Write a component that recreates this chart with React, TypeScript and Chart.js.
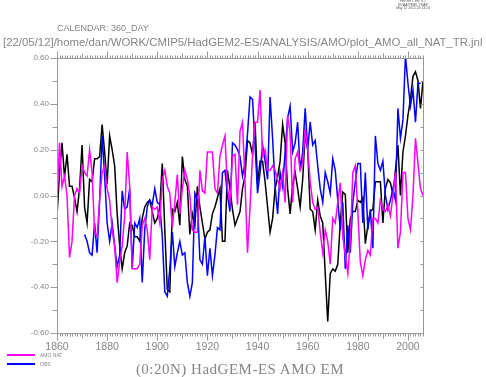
import React, { useEffect, useRef } from "react";
import { Chart, registerables } from "chart.js";

Chart.register(...registerables);

const START_YEAR = 1860;
const X_MIN = 1860;
const X_MAX = 2006;
const X_TICKS = [1860, 1880, 1900, 1920, 1940, 1960, 1980, 2000];
const Y_TICKS = [-0.6, -0.4, -0.2, 0, 0.2, 0.4, 0.6];

// AMO NAT (magenta), 1860..2006
const AMO_NAT: (number | null)[] = [
  -0.03, 0.23, 0.04, 0.085, 0.0, -0.27, -0.2, 0.0, 0.03, 0.01,
  0.13, 0.1, 0.085, 0.2, 0.1, -0.16, -0.18, -0.02, 0.1, 0.13,
  0.03, -0.02, -0.15, -0.22, -0.38, -0.29, -0.22, -0.09, 0.19, 0.04,
  -0.32, -0.32, -0.32, -0.3, -0.13, -0.1, -0.15, -0.28, -0.05, -0.06,
  -0.05, -0.12, 0.07, 0.11, 0.04, 0.01, -0.14, -0.03, 0.09, -0.08,
  0.03, 0.11, 0.07, 0.0, -0.15, -0.16, -0.16, 0.11, 0.02, 0.01,
  0.19, 0.19, 0.19, 0.03, 0.01, 0.17, 0.22, 0.26, 0.03, -0.03,
  0.17, 0.18, -0.04, 0.28, 0.32, 0.06, -0.25, -0.05, 0.17, 0.32,
  0.32, 0.46, 0.17, 0.2, 0.11, 0.11, 0.13, 0.11, 0.07, 0.03,
  0.1, -0.03, 0.35, 0.27, -0.03, 0.16, 0.19, 0.11, 0.14, 0.29,
  0.2, 0.06, -0.03, -0.06, -0.05, -0.16, -0.25, -0.15, -0.2, -0.3,
  -0.1, -0.12, -0.03, 0.055, -0.18, -0.26, -0.34, -0.2, 0.1, 0.13,
  -0.07, -0.29, -0.35, -0.28, -0.24, -0.26, -0.1, -0.1, -0.12, -0.02,
  -0.06, -0.07, -0.04, -0.09, 0.0, 0.1, -0.23, -0.16, 0.1, 0.1,
  -0.1, -0.15, 0.0, 0.25, 0.14, 0.03, 0.0,
];

// OBS (blue), 1860..2006
const OBS: (number | null)[] = [
  null, null, null, null, null, null, null, null, null, null,
  null, -0.17, -0.2, -0.25, -0.26, -0.12, -0.25, -0.02, 0.26, 0.085,
  -0.12, -0.2, -0.12, -0.22, -0.31, -0.26, 0.02, -0.06, -0.05, 0.03,
  -0.32, -0.12, -0.14, -0.1, -0.38, -0.15, -0.05, -0.02, -0.04, 0.03,
  -0.03, -0.04, -0.18, -0.42, -0.44, -0.32, -0.16, -0.31, -0.25, -0.2,
  -0.26, -0.25, -0.38, -0.44, -0.38, 0.01, -0.02, -0.28, -0.3, -0.18,
  -0.35, -0.23, -0.35, -0.26, -0.14, -0.15, 0.1, 0.11, 0.0, -0.07,
  0.23, 0.22, 0.2, 0.17, 0.085, 0.14, 0.27, 0.43, 0.42, 0.22,
  0.01, 0.1, 0.22, 0.15, 0.07, 0.43, 0.25, 0.04, -0.08, 0.1,
  0.04, 0.19, 0.34, 0.39, 0.19, 0.23, 0.32, 0.11, 0.19, 0.38,
  0.2, 0.32, 0.22, 0.24, 0.13, 0.03, -0.03, 0.1, 0.06, 0.01,
  0.16, 0.11, -0.02, -0.15, -0.03, -0.32, -0.13, -0.25, -0.03, 0.06,
  0.14, 0.14, -0.12, 0.1, -0.15, -0.06, -0.23, 0.26, 0.14, 0.11,
  0.15, 0.0, -0.06, -0.02, 0.03, -0.02, 0.38, 0.25, 0.33, 0.61,
  0.49, 0.39, 0.46, 0.32, 0.49, 0.49, null,
];

// Ensemble mean (black), 1860..2006
const EM: (number | null)[] = [
  -0.09, 0.1, 0.23, 0.08, 0.18, 0.04, 0.04, -0.01, -0.07, 0.03,
  0.22, -0.05, -0.12, 0.07, 0.06, 0.16, 0.16, 0.17, 0.31, 0.19,
  0.05, 0.26, 0.2, 0.13, -0.08, -0.22, -0.32, -0.25, -0.22, -0.12,
  -0.13, -0.18, -0.18, -0.2, -0.1, -0.05, -0.03, -0.02, -0.07, -0.12,
  -0.1, -0.05, 0.14, -0.15, -0.41, -0.42, -0.06, -0.07, -0.03, -0.13,
  0.17, 0.07, 0.04, -0.17, -0.08, -0.13, 0.04, -0.05, -0.12, -0.19,
  -0.16, -0.15, -0.08, -0.05, -0.01, 0.03, -0.2, -0.2, 0.11, 0.03,
  -0.06, -0.13, -0.1, -0.07, 0.03, 0.085, 0.24, 0.23, 0.18, 0.32,
  0.05, 0.15, 0.15, 0.06, -0.05, -0.16, -0.1, 0.03, 0.08, 0.15,
  0.31, 0.23, 0.03, -0.08, 0.05, 0.1, 0.03, -0.05, 0.07, 0.27,
  0.2, -0.06, -0.07, -0.15, -0.02, -0.09, -0.12, -0.34, -0.55, -0.34,
  -0.32, -0.33, -0.3, -0.12, 0.015, 0.005, -0.25, -0.1, -0.07, -0.07,
  -0.02, -0.03, -0.01, -0.21, -0.13, -0.07, -0.06, 0.06, 0.06, 0.06,
  -0.12, 0.03, 0.07, 0.055, 0.005, 0.11, 0.22, 0.0, 0.19, 0.26,
  0.35, 0.42, 0.52, 0.54, 0.5, 0.38, 0.5,
];

const TEXT_COLOR = "#858585";
const AXIS_COLOR = "#999999";
const SANS = "'Liberation Sans', Arial, sans-serif";
const SERIF = "'Liberation Serif', 'Times New Roman', serif";

function toPoints(vals: (number | null)[]) {
  const pts: { x: number; y: number }[] = [];
  vals.forEach((v, i) => {
    if (v !== null) pts.push({ x: START_YEAR + i, y: v });
  });
  return pts;
}

const ferretAxes = {
  id: "ferretAxes",
  afterDraw(chart: any) {
    const { ctx, chartArea: a, scales } = chart;
    const xs = scales.x;
    const ys = scales.y;
    const L = Math.round(a.left) + 0.5;
    const R = Math.round(a.right) + 0.5;
    const T = Math.round(a.top) + 0.5;
    const B = Math.round(a.bottom) + 0.5;
    ctx.save();
    ctx.strokeStyle = AXIS_COLOR;
    ctx.lineWidth = 1;
    ctx.beginPath();
    ctx.moveTo(L, T);
    ctx.lineTo(R, T);
    ctx.lineTo(R, B);
    ctx.lineTo(L, B);
    ctx.closePath();
    for (let yr = X_MIN; yr <= X_MAX; yr++) {
      const px = Math.round(xs.getPixelForValue(yr)) + 0.5;
      const len = yr % 20 === 0 ? 7 : yr % 10 === 0 ? 5 : 3;
      ctx.moveTo(px, B);
      ctx.lineTo(px, B + len);
      ctx.moveTo(px, T);
      ctx.lineTo(px, T - len);
    }
    for (let k = -6; k <= 6; k++) {
      const py = Math.round(ys.getPixelForValue(k / 10)) + 0.5;
      const len = k % 2 === 0 ? 7 : 5;
      ctx.moveTo(L, py);
      ctx.lineTo(L - len, py);
      ctx.moveTo(R, py);
      ctx.lineTo(R - 3, py);
    }
    ctx.stroke();
    ctx.restore();
  },
};

export default function App() {
  const canvasRef = useRef<HTMLCanvasElement | null>(null);

  useEffect(() => {
    const canvas = canvasRef.current;
    if (!canvas) return;
    const chart = new Chart(canvas, {
      type: "line",
      data: {
        datasets: [
          {
            label: "AMO NAT",
            data: toPoints(AMO_NAT),
            borderColor: "#ff00ff",
            borderWidth: 1.5,
            pointRadius: 0,
            tension: 0,
          },
          {
            label: "OBS",
            data: toPoints(OBS),
            borderColor: "#0000ff",
            borderWidth: 1.5,
            pointRadius: 0,
            tension: 0,
          },
          {
            label: "EM",
            data: toPoints(EM),
            borderColor: "#000000",
            borderWidth: 1.5,
            pointRadius: 0,
            tension: 0,
          },
        ],
      },
      options: {
        animation: false,
        responsive: false,
        devicePixelRatio: 1,
        layout: { padding: { top: 58, right: 63, left: 0, bottom: 0 } },
        plugins: { legend: { display: false }, tooltip: { enabled: false } },
        scales: {
          x: {
            type: "linear",
            min: X_MIN,
            max: X_MAX,
            afterBuildTicks: (s: any) => {
              s.ticks = X_TICKS.map((v) => ({ value: v }));
            },
            afterFit: (s: any) => {
              s.height = 44;
            },
            grid: { display: false, drawTicks: false },
            border: { display: false },
            ticks: {
              padding: 8,
              color: TEXT_COLOR,
              autoSkip: false,
              maxRotation: 0,
              font: { family: SANS, size: 10.5 },
              callback: (v: any) => String(v),
            },
          },
          y: {
            type: "linear",
            min: -0.6,
            max: 0.6,
            afterBuildTicks: (s: any) => {
              s.ticks = Y_TICKS.map((v) => ({ value: v }));
            },
            afterFit: (s: any) => {
              s.width = 57;
            },
            grid: { display: false, drawTicks: false },
            border: { display: false },
            ticks: {
              padding: 8,
              color: TEXT_COLOR,
              autoSkip: false,
              font: { family: SANS, size: 8 },
              callback: (v: any) => Number(v).toFixed(2),
            },
          },
        },
      },
      plugins: [ferretAxes],
    });
    return () => chart.destroy();
  }, []);

  const abs = (s: React.CSSProperties): React.CSSProperties => ({
    position: "absolute",
    whiteSpace: "nowrap",
    color: TEXT_COLOR,
    ...s,
  });

  return (
    <div
      style={{
        position: "absolute",
        left: 0,
        top: 0,
        width: 486,
        height: 377,
        overflow: "hidden",
        background: "#ffffff",
      }}
    >
      <canvas
        ref={canvasRef}
        width={486}
        height={377}
        style={{ position: "absolute", left: 0, top: 0, width: 486, height: 377 }}
      />
      <div
        style={abs({
          left: 383,
          top: 0,
          width: 60,
          textAlign: "center",
          fontFamily: SANS,
          fontSize: 3.4,
          lineHeight: "3.6px",
          color: "#555",
        })}
      >
        <div>FERRET Ver. 6.1</div>
        <div>NOAA/PMEL TMAP</div>
        <div>May 22 2012 23:13:24</div>
      </div>
      <div style={abs({ left: 57, top: 24, fontFamily: SANS, fontSize: 9, lineHeight: "9px" })}>
        CALENDAR: 360_DAY
      </div>
      <div style={abs({ left: 3, top: 37, fontFamily: SANS, fontSize: 11.4, lineHeight: "11.4px" })}>
        [22/05/12]/home/dan/WORK/CMIP5/HadGEM2-ES/ANALYSIS/AMO/plot_AMO_all_NAT_TR.jnl
      </div>
      <div style={abs({ left: 7, top: 354, width: 28, height: 2, background: "#ff00ff" })} />
      <div style={abs({ left: 40, top: 352.5, fontFamily: SANS, fontSize: 5, lineHeight: "5px" })}>
        AMO NAT
      </div>
      <div style={abs({ left: 7, top: 363, width: 28, height: 2, background: "#0000ff" })} />
      <div style={abs({ left: 40, top: 361.5, fontFamily: SANS, fontSize: 5, lineHeight: "5px" })}>
        OBS
      </div>
      <div
        style={abs({
          left: 0,
          top: 361.5,
          width: 480,
          textAlign: "center",
          fontFamily: SERIF,
          fontSize: 15,
          lineHeight: "15px",
          letterSpacing: 0.5,
        })}
      >
        (0:20N) HadGEM-ES AMO EM
      </div>
    </div>
  );
}
